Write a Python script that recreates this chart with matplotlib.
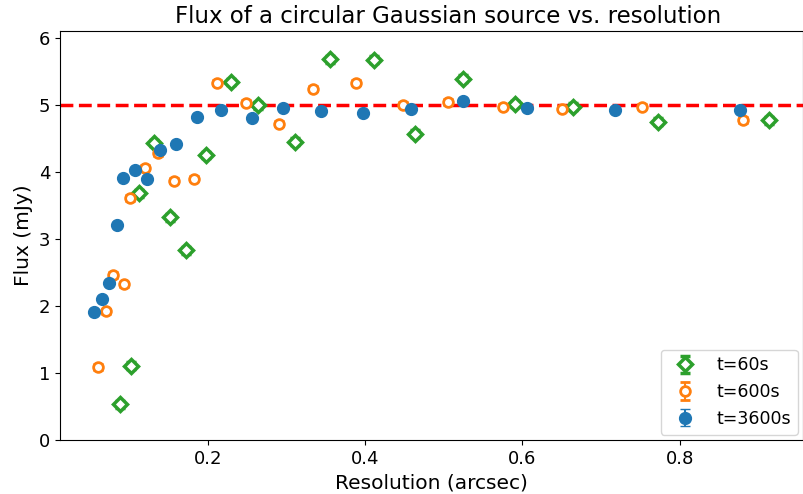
import matplotlib
matplotlib.use("Agg")
import matplotlib.pyplot as plt

# resolution (arcsec) and flux (mJy) for each integration time
res_60 = [0.088, 0.102, 0.113, 0.132, 0.152, 0.172, 0.198, 0.229, 0.264,
          0.311, 0.356, 0.411, 0.464, 0.524, 0.591, 0.664, 0.773, 0.914]
flux_60 = [0.53, 1.11, 3.68, 4.43, 3.32, 2.83, 4.25, 5.34, 4.99,
           4.45, 5.68, 5.67, 4.57, 5.39, 5.01, 4.97, 4.75, 4.77]

res_600 = [0.060, 0.071, 0.080, 0.093, 0.101, 0.120, 0.137, 0.157, 0.183, 0.212,
           0.248, 0.291, 0.334, 0.389, 0.448, 0.506, 0.576, 0.650, 0.752, 0.881]
flux_600 = [1.09, 1.92, 2.46, 2.32, 3.61, 4.06, 4.28, 3.87, 3.90, 5.33,
            5.03, 4.72, 5.24, 5.33, 5.00, 5.04, 4.97, 4.94, 4.97, 4.77]

res_3600 = [0.055, 0.065, 0.074, 0.085, 0.092, 0.108, 0.123, 0.139, 0.159, 0.186,
            0.217, 0.256, 0.296, 0.344, 0.397, 0.458, 0.524, 0.606, 0.718, 0.877]
flux_3600 = [1.91, 2.10, 2.34, 3.21, 3.91, 4.02, 3.90, 4.32, 4.42, 4.81,
             4.92, 4.80, 4.95, 4.91, 4.87, 4.94, 5.06, 4.95, 4.92, 4.92]

# errors are smaller than the markers
err_60 = 0.05
err_600 = 0.04
err_3600 = 0.03

true_flux = 5.0


def main():
    fig = plt.figure(figsize=(8.04, 4.94), dpi=100)
    ax = fig.add_axes([60 / 804, 1 - 440 / 494, 743 / 804, 409 / 494])

    ax.errorbar(res_60, flux_60, yerr=err_60, fmt='D', color='#2ca02c',
                mfc='white', mew=2.5, ms=7, capsize=3.5, label='t=60s')
    ax.errorbar(res_600, flux_600, yerr=err_600, fmt='o', color='#ff7f0e',
                mfc='white', mew=2, ms=7, capsize=3.5, label='t=600s')
    ax.errorbar(res_3600, flux_3600, yerr=err_3600, fmt='o', color='#1f77b4',
                ms=8.5, capsize=3.5, label='t=3600s')

    ax.axhline(true_flux, color='red', ls='--', lw=2.5)

    ax.set_ylim(0, 6.1)
    ax.set_xticks([0.2, 0.4, 0.6, 0.8])
    ax.tick_params(labelsize=13)
    # title sits a little right of the axes centre in the original
    ax.set_title("Flux of a circular Gaussian source vs. resolution",
                 fontsize=16.5, x=0.523)
    ax.set_xlabel("Resolution (arcsec)", fontsize=14.5)
    ax.set_ylabel("Flux (mJy)", fontsize=14.5)
    ax.legend(loc='lower right', fontsize=12.5, borderaxespad=0.3)

    fig.savefig("out.png", dpi=100)


if __name__ == "__main__":
    main()
